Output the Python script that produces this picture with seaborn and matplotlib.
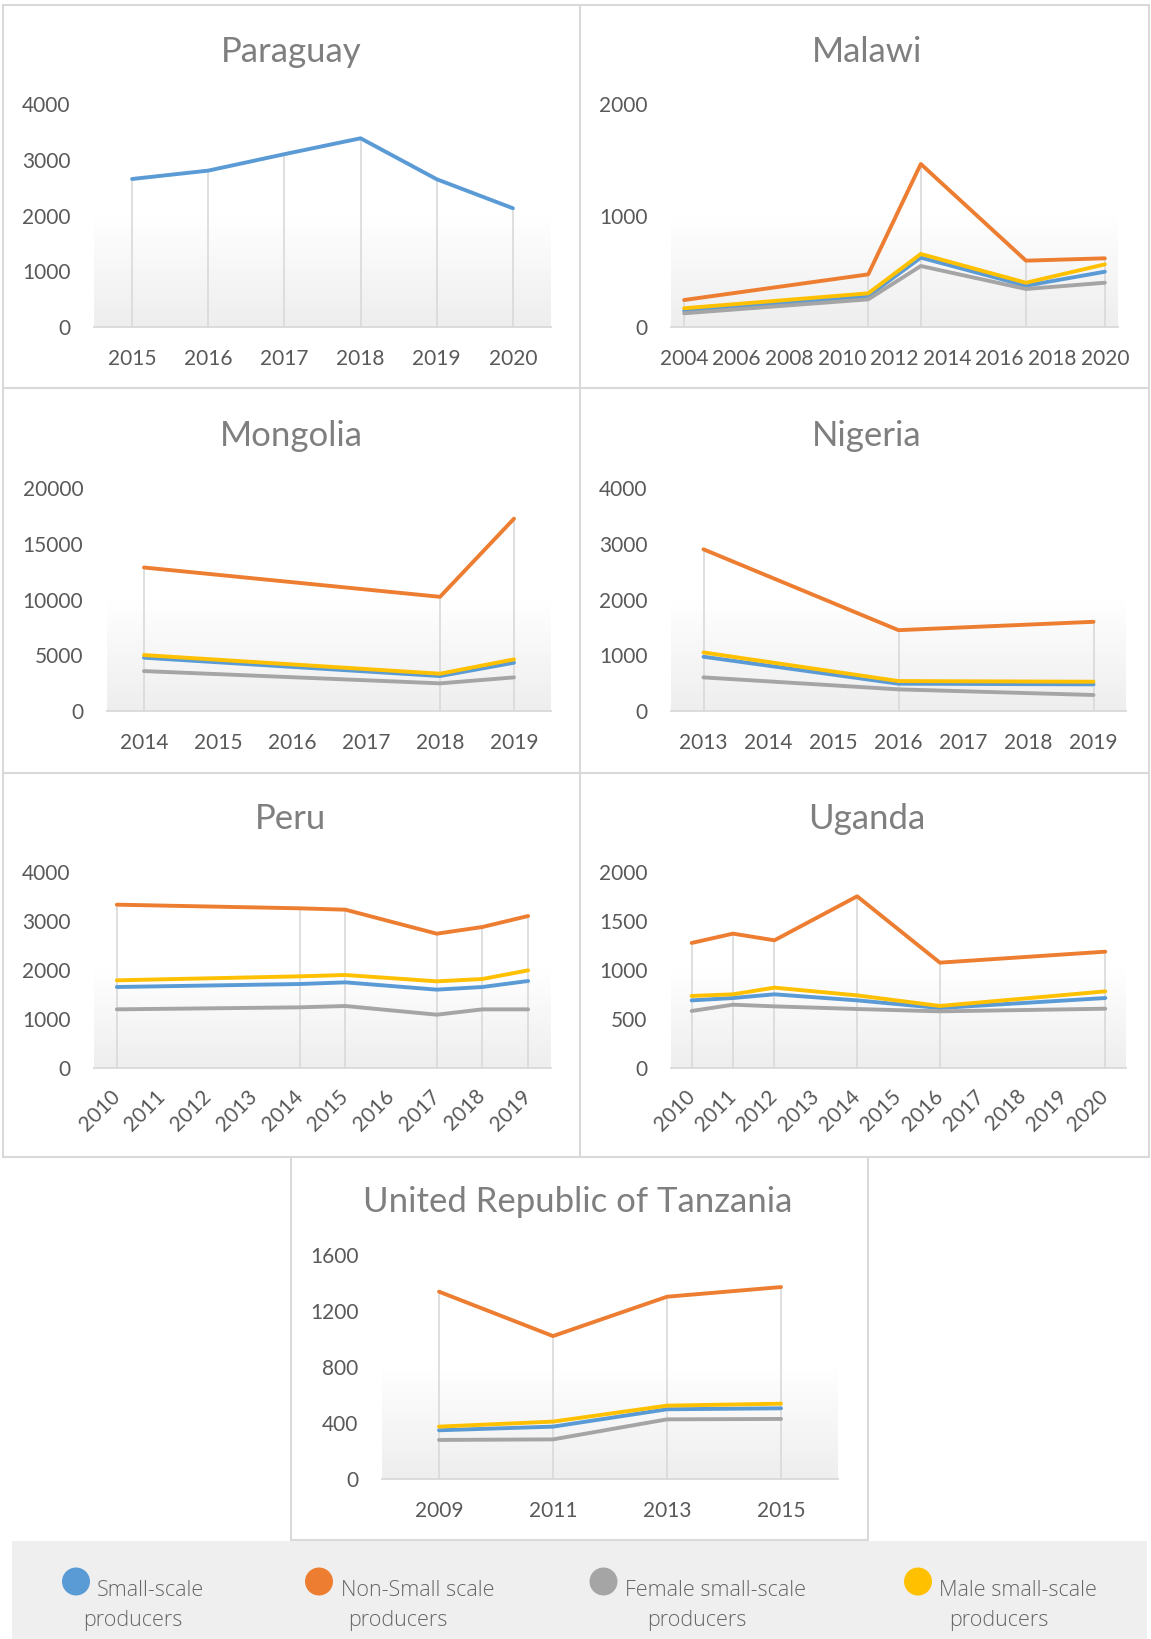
import numpy as np
import pandas as pd
import matplotlib
matplotlib.use('Agg')
import matplotlib.pyplot as plt
import seaborn as sns
from matplotlib.patches import Rectangle, Ellipse
from matplotlib.lines import Line2D
from matplotlib.colors import LinearSegmentedColormap

sns.set_style('white')
plt.rcParams['font.family'] = ['Lato', 'DejaVu Sans']

W, H = 1151, 1639

# series in Excel drawing order
series_names = ['Small-scale producers', 'Non-Small scale producers',
                'Female small-scale producers', 'Male small-scale producers']
series_colors = ['#5B9BD5', '#ED7D31', '#A5A5A5', '#FFC000']
legend_line1 = ['Small-scale', 'Non-Small scale', 'Female small-scale', 'Male small-scale']
legend_line2 = ['producers', 'producers', 'producers', 'producers']

# ---- data ----
paraguay_years = [2015, 2016, 2017, 2018, 2019, 2020]
paraguay_small = [2655, 2805, 3100, 3385, 2650, 2130]

malawi_years = [2004, 2011, 2013, 2017, 2020]
malawi_small = [146, 278, 622, 370, 496]
malawi_non_small = [242, 472, 1462, 595, 616]
malawi_female = [123, 248, 547, 341, 397]
malawi_male = [168, 302, 655, 397, 562]

mongolia_years = [2014, 2018, 2019]
mongolia_small = [4780, 3135, 4330]
mongolia_non_small = [12870, 10240, 17250]
mongolia_female = [3580, 2480, 3015]
mongolia_male = [5015, 3345, 4630]

nigeria_years = [2013, 2016, 2019]
nigeria_small = [973, 490, 478]
nigeria_non_small = [2900, 1450, 1600]
nigeria_female = [603, 388, 287]
nigeria_male = [1050, 537, 525]

peru_years = [2010, 2014, 2015, 2017, 2018, 2019]
peru_small = [1653, 1714, 1748, 1599, 1653, 1776]
peru_non_small = [3333, 3259, 3231, 2741, 2878, 3102]
peru_female = [1197, 1238, 1265, 1088, 1197, 1197]
peru_male = [1789, 1871, 1898, 1769, 1816, 1993]

uganda_years = [2010, 2011, 2012, 2014, 2016, 2020]
uganda_small = [690, 714, 752, 690, 612, 714]
uganda_non_small = [1276, 1371, 1303, 1752, 1075, 1187]
uganda_female = [582, 646, 629, 602, 578, 605]
uganda_male = [735, 752, 820, 741, 633, 782]

tanzania_years = [2009, 2011, 2013, 2015]
tanzania_small = [348, 374, 498, 505]
tanzania_non_small = [1338, 1021, 1302, 1371]
tanzania_female = [279, 283, 426, 429]
tanzania_male = [374, 410, 524, 538]

fig = plt.figure(figsize=(W / 100, H / 100), dpi=100)
bg_cmap = LinearSegmentedColormap.from_list('bg', ['#ffffff', '#ffffff', '#eeeeee'])
grid_col = '#d9d9d9'
tick_col = '#595959'
title_col = '#7f7f7f'


def px_box(x0, y0, x1, y1):
    return [x0 / W, 1 - y1 / H, (x1 - x0) / W, (y1 - y0) / H]


def draw_panel(title, title_xy, box, years, values, xlim, xticks, yticks, rotate=False):
    ax = fig.add_axes(px_box(*box))
    rows = []
    present = []
    for name, vals in zip(series_names, values):
        if vals is None:
            continue
        present.append(name)
        for yr, v in zip(years, vals):
            rows.append((yr, v, name))
    df = pd.DataFrame(rows, columns=['year', 'value', 'series'])

    # plot-area gradient fill
    ax.imshow(np.linspace(0, 1, 256).reshape(-1, 1), cmap=bg_cmap, aspect='auto',
              extent=(0, 1, 0, 1), transform=ax.transAxes, zorder=0)

    # drop lines from highest series to the axis
    tops = df.groupby('year')['value'].max()
    ax.vlines(tops.index, 0, tops.values, color=grid_col, lw=1.2, zorder=1)

    sns.lineplot(data=df, x='year', y='value', hue='series', hue_order=present,
                 palette=dict(zip(series_names, series_colors)), linewidth=2.8,
                 legend=False, ax=ax, zorder=3, solid_capstyle='round',
                 solid_joinstyle='round')

    ax.set_xlim(*xlim)
    ax.set_ylim(yticks[0], yticks[-1])
    ax.set_xticks(xticks)
    ax.set_yticks(yticks)
    ax.set_xlabel('')
    ax.set_ylabel('')
    for s in ['top', 'left', 'right']:
        ax.spines[s].set_visible(False)
    ax.spines['bottom'].set_color(grid_col)
    ax.spines['bottom'].set_linewidth(1.3)
    ax.tick_params(axis='both', length=0, labelsize=15, labelcolor=tick_col)
    ax.tick_params(axis='y', pad=17)
    if rotate:
        ax.tick_params(axis='x', pad=18)
        for lab in ax.get_xticklabels():
            lab.set_rotation(45)
            lab.set_ha('right')
            lab.set_va('center')
            lab.set_rotation_mode('anchor')
    else:
        ax.tick_params(axis='x', pad=16)
    ax.set_facecolor('none')

    fig.text(title_xy[0] / W, 1 - title_xy[1] / H, title, ha='center', va='baseline',
             fontsize=25, color=title_col)
    return ax


draw_panel('Paraguay', (291, 62), (94, 104, 551, 327), paraguay_years,
           [paraguay_small, None, None, None], (2014.5, 2020.5),
           list(range(2015, 2021)), [0, 1000, 2000, 3000, 4000])

draw_panel('Malawi', (867, 62), (671, 104, 1118, 327), malawi_years,
           [malawi_small, malawi_non_small, malawi_female, malawi_male], (2003.5, 2020.5),
           list(range(2004, 2021, 2)), [0, 1000, 2000])

draw_panel('Mongolia', (291, 446), (107, 488, 551, 711), mongolia_years,
           [mongolia_small, mongolia_non_small, mongolia_female, mongolia_male],
           (2013.5, 2019.5), list(range(2014, 2020)), [0, 5000, 10000, 15000, 20000])

draw_panel('Nigeria', (867, 446), (671, 488, 1126, 711), nigeria_years,
           [nigeria_small, nigeria_non_small, nigeria_female, nigeria_male],
           (2012.5, 2019.5), list(range(2013, 2020)), [0, 1000, 2000, 3000, 4000])

draw_panel('Peru', (291, 829), (94, 872, 551, 1068), peru_years,
           [peru_small, peru_non_small, peru_female, peru_male],
           (2009.5, 2019.5), list(range(2010, 2020)), [0, 1000, 2000, 3000, 4000],
           rotate=True)

draw_panel('Uganda', (867, 829), (671, 872, 1126, 1068), uganda_years,
           [uganda_small, uganda_non_small, uganda_female, uganda_male],
           (2009.5, 2020.5), list(range(2010, 2021)), [0, 500, 1000, 1500, 2000],
           rotate=True)

draw_panel('United Republic of Tanzania', (578, 1212), (382, 1255, 838, 1479), tanzania_years,
           [tanzania_small, tanzania_non_small, tanzania_female, tanzania_male],
           (2008, 2016), tanzania_years, [0, 400, 800, 1200, 1600])

# ---- panel frames ----
def fig_line(x0, y0, x1, y1):
    fig.add_artist(Line2D([x0 / W, x1 / W], [1 - y0 / H, 1 - y1 / H],
                          transform=fig.transFigure, color=grid_col, lw=1.5))

fig_line(3, 5, 1149, 5)
fig_line(3, 5, 3, 1157)
fig_line(1149, 5, 1149, 1157)
fig_line(580, 5, 580, 1157)
fig_line(3, 388, 1149, 388)
fig_line(3, 773, 1149, 773)
fig_line(3, 1157, 1149, 1157)
fig_line(291, 1157, 291, 1540)
fig_line(868, 1157, 868, 1540)
fig_line(291, 1540, 868, 1540)

# ---- legend strip ----
fig.add_artist(Rectangle((12 / W, 0), (1147 - 12) / W, (1639 - 1541) / H,
                         transform=fig.transFigure, fc='#efefef', ec='none', zorder=0))
circle_x = [76, 319, 603.5, 918]
line1_x = [97, 341, 625, 939]
line2_x = [133, 398, 697, 999]
for cx, l1x, l2x, col, t1, t2 in zip(circle_x, line1_x, line2_x, series_colors,
                                     legend_line1, legend_line2):
    fig.add_artist(Ellipse((cx / W, 1 - 1581.5 / H), 28 / W, 28 / H,
                           transform=fig.transFigure, fc=col, ec='none'))
    fig.text(l1x / W, 1 - 1596 / H, t1, ha='left', va='baseline', fontsize=15.5,
             color='#666666', family=['Open Sans', 'DejaVu Sans'], fontweight='light')
    fig.text(l2x / W, 1 - 1626 / H, t2, ha='center', va='baseline', fontsize=15.5,
             color='#666666', family=['Open Sans', 'DejaVu Sans'], fontweight='light')

fig.savefig('out.png', dpi=100)
